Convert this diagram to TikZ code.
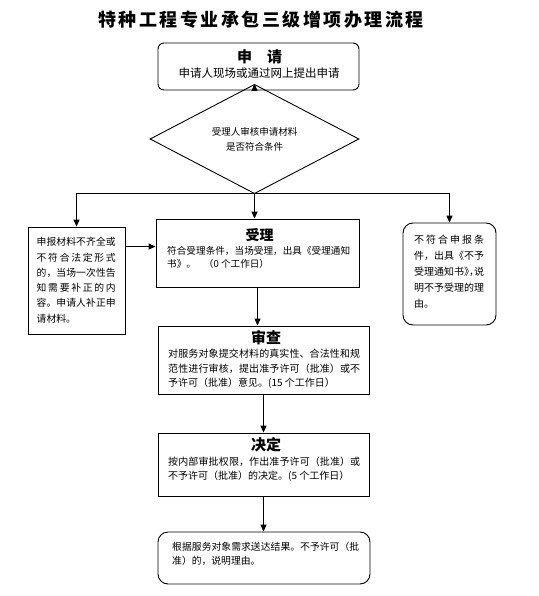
\documentclass[tikz,border=0pt]{standalone}
\usepackage{fontspec}
\setmainfont{Noto Sans CJK SC}
\usetikzlibrary{shapes.geometric,arrows.meta}
\XeTeXlinebreaklocale "zh"
\XeTeXlinebreakskip=0pt plus 3pt minus 0.5pt
\begin{document}
\begin{tikzpicture}[x=1pt,y=-1pt,
  box/.style={draw,line width=0.9pt,inner sep=0},
  rbox/.style={box,rounded corners=#1},
  arr/.style={line width=0.9pt,-{Triangle[length=7pt,width=6pt]}},
  ln/.style={line width=0.9pt},
  ttl/.style={font=\fontsize{15}{18}\selectfont\bfseries,inner sep=0},
  body/.style={inner sep=0,anchor=base west,align=justify}
]
\useasboundingbox (0,0) rectangle (538,596);

% title
\node[inner sep=0,font=\fontsize{18}{20}\selectfont\bfseries\addfontfeature{LetterSpace=14}] (T) at (261,20) {特种工程专业承包三级增项办理流程};

% apply
\node[rbox=6pt,minimum width=201pt,minimum height=47pt] (A) at (258.5,66.5) {};
\node[ttl] (At) at (259.5,57) {申\hspace{1em}请};
\node[inner sep=0,font=\fontsize{11.5}{14}\selectfont] (Ax) at (259,73) {申请人现场或通过网上提出申请};

% decision
\node[draw,diamond,ln,minimum width=209pt,minimum height=70pt,inner sep=0,align=center,font=\fontsize{9.5}{15}\selectfont] (D) at (254.5,139) {受理人审核申请材料\\是否符合条件};

% left box
\node[box,minimum width=97pt,minimum height=107pt] (L) at (76.5,280.5) {};
\node[body,text width=79pt,font=\fontsize{9.8}{15.3}\selectfont] (Lx) at (36.5,245.7) {申报材料不齐全或\linebreak 不符合法定形式\linebreak 的，当场一次性告\linebreak 知需要补正的内\linebreak 容。申请人补正申\linebreak 请材料。};

% accept box
\node[box,minimum width=203pt,minimum height=68pt] (B) at (257.5,253) {};
\node[ttl,font=\fontsize{14}{16}\selectfont\bfseries] (Bt) at (259.5,235) {受理};
\node[body,text width=183pt,font=\fontsize{9.6}{13}\selectfont] (Bx) at (167,254.7) {符合受理条件，当场受理，出具《受理通知\linebreak 书》。\hspace{8pt}（0 个工作日）};

% right box
\node[rbox=10pt,minimum width=93pt,minimum height=102pt] (R) at (449.5,274) {};
\node[body,text width=70pt,font=\fontsize{10}{16}\selectfont] (Rx) at (414,243.8) {不符合申报条\linebreak 件，出具《不予\linebreak 受理通知书{\addfontfeature{RawFeature=+halt}》，}说\linebreak 明不予受理的理\linebreak 由。};

% review box
\node[box,minimum width=211pt,minimum height=68pt] (C) at (263.5,360) {};
\node[ttl] (Ct) at (266,338) {审查};
\node[body,text width=192pt,font=\fontsize{10}{14.5}\selectfont] (Cx) at (168,357.8) {对服务对象提交材料的真实性、合法性和规\linebreak 范性进行审核，提出准予许可（批准）或不\linebreak 予许可（批准）意见。(15 个工作日）};

% decide box
\node[box,minimum width=211pt,minimum height=63pt] (E) at (263.5,464.5) {};
\node[ttl] (Et) at (266,445) {决定};
\node[body,text width=192pt,font=\fontsize{10}{14}\selectfont] (Ex) at (168,465.8) {按内部审批权限，作出准予许可（批准）或\linebreak 不予许可（批准）的决定。(5 个工作日）};

% final box
\node[rbox=10pt,minimum width=212pt,minimum height=52pt] (F) at (264,558) {};
\node[body,text width=187pt,font=\fontsize{9.8}{14}\selectfont] (Fx) at (172,550.7) {根据服务对象需求送达结果。不予许可（批\linebreak 准）的，说明理由。};

% connectors
\draw[arr] (A.south -| D.north) -- (D.north);
\coordinate (J) at (254.5,193.5);
\draw[ln] (D.south) -- (J);
\draw[arr] (J) -- (J |- B.north);
\draw[arr] (J) -| (L.north);
\draw[arr] (J) -| (R.north);
\draw[arr] ([yshift=-20pt]L.north east) -- ([yshift=-20pt]L.north east -| B.west);
\draw[arr] (B.south) -- (B.south |- C.north);
\draw[arr] (C.south) -- (C.south |- E.north);
\draw[arr] (E.south) -- (E.south |- F.north);
\end{tikzpicture}
\end{document}
